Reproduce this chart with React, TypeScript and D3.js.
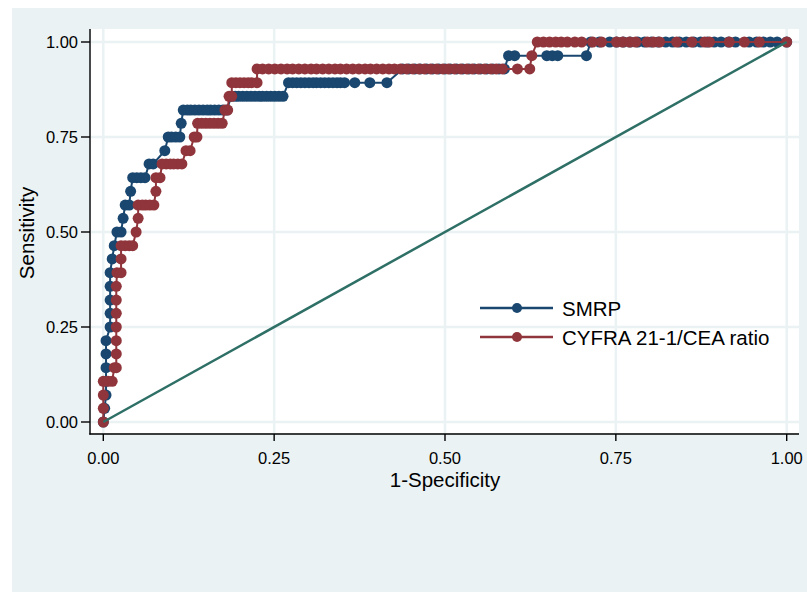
import React from "react";
import * as d3 from "d3";

// 1-Specificity / Sensitivity pairs
const smrpX = [0, 0.002, 0.004, 0.004, 0.004, 0.004, 0.004, 0.01, 0.01, 0.01, 0.01, 0.01, 0.013, 0.016, 0.02, 0.026, 0.029, 0.032, 0.038, 0.04, 0.043, 0.049, 0.055, 0.061, 0.067, 0.073, 0.09, 0.095, 0.1, 0.106, 0.112, 0.114, 0.117,
  0.123, 0.128, 0.134, 0.14, 0.146, 0.152, 0.157, 0.163, 0.169, 0.175, 0.181,
  0.187, 0.193, 0.198, 0.204, 0.21, 0.216, 0.222, 0.228, 0.233, 0.239, 0.245, 0.251, 0.257, 0.263,
  0.271, 0.277, 0.283, 0.289, 0.295, 0.301, 0.307, 0.312, 0.318, 0.324, 0.33, 0.336, 0.342, 0.347, 0.353, 0.368, 0.39, 0.415,
  0.438, 0.447, 0.456, 0.464, 0.473, 0.482, 0.491, 0.5, 0.508, 0.517, 0.526, 0.535, 0.543, 0.552, 0.561, 0.57, 0.579, 0.587,
  0.593, 0.602, 0.649, 0.657, 0.665, 0.707,
  0.713, 0.726, 0.741, 0.751, 0.761, 0.771, 0.782, 0.792, 0.802, 0.812, 0.823, 0.833, 0.843, 0.853, 0.864, 0.874, 0.884, 0.894, 0.904, 0.915, 0.925, 0.945, 0.956, 0.966, 0.976, 0.986, 1];
const smrpY = [0, 0.036, 0.071, 0.107, 0.143, 0.179, 0.214, 0.25, 0.286, 0.321, 0.357, 0.393, 0.429, 0.464, 0.5, 0.5, 0.536, 0.571, 0.571, 0.607, 0.643, 0.643, 0.643, 0.643, 0.679, 0.679, 0.714, 0.75, 0.75, 0.75, 0.75, 0.786, 0.821,
  0.821, 0.821, 0.821, 0.821, 0.821, 0.821, 0.821, 0.821, 0.821, 0.821, 0.821,
  0.857, 0.857, 0.857, 0.857, 0.857, 0.857, 0.857, 0.857, 0.857, 0.857, 0.857, 0.857, 0.857, 0.857,
  0.893, 0.893, 0.893, 0.893, 0.893, 0.893, 0.893, 0.893, 0.893, 0.893, 0.893, 0.893, 0.893, 0.893, 0.893, 0.893, 0.893, 0.893,
  0.929, 0.929, 0.929, 0.929, 0.929, 0.929, 0.929, 0.929, 0.929, 0.929, 0.929, 0.929, 0.929, 0.929, 0.929, 0.929, 0.929, 0.929,
  0.964, 0.964, 0.964, 0.964, 0.964, 0.964,
  1, 1, 1, 1, 1, 1, 1, 1, 1, 1, 1, 1, 1, 1, 1, 1, 1, 1, 1, 1, 1, 1, 1, 1, 1, 1, 1];

const cyfraX = [0, 0, 0, 0, 0.007, 0.013, 0.016, 0.019, 0.019, 0.019, 0.019, 0.019, 0.019, 0.019, 0.02, 0.026, 0.026, 0.026, 0.032, 0.038, 0.043, 0.048, 0.051, 0.051, 0.057, 0.062, 0.068, 0.074, 0.077, 0.077, 0.083, 0.086, 0.092, 0.098, 0.103, 0.109, 0.115, 0.121, 0.127, 0.133, 0.137, 0.138, 0.144, 0.15, 0.156, 0.162, 0.168, 0.174, 0.178, 0.182, 0.184, 0.188, 0.188, 0.194, 0.2, 0.206, 0.212, 0.217, 0.225,
  0.225, 0.233, 0.242, 0.251, 0.26, 0.269, 0.277, 0.286, 0.295, 0.304, 0.312, 0.321, 0.33, 0.339, 0.347, 0.356, 0.365, 0.374, 0.383, 0.391, 0.4, 0.409, 0.418, 0.426, 0.435, 0.444, 0.453, 0.462, 0.47, 0.479, 0.488, 0.497, 0.505, 0.514, 0.523, 0.532, 0.54, 0.549, 0.558, 0.567, 0.575, 0.584, 0.606, 0.624,
  0.627,
  0.635, 0.644, 0.653, 0.662, 0.67, 0.679, 0.69, 0.7, 0.716, 0.729, 0.751, 0.76, 0.77, 0.779, 0.796, 0.805, 0.814, 0.839, 0.861, 0.88, 0.887, 0.916, 0.938, 0.96, 1];
const cyfraY = [0, 0.036, 0.071, 0.107, 0.107, 0.107, 0.143, 0.143, 0.179, 0.214, 0.25, 0.286, 0.321, 0.357, 0.393, 0.393, 0.429, 0.464, 0.464, 0.464, 0.464, 0.5, 0.536, 0.571, 0.571, 0.571, 0.571, 0.571, 0.607, 0.643, 0.643, 0.679, 0.679, 0.679, 0.679, 0.679, 0.679, 0.714, 0.714, 0.75, 0.75, 0.786, 0.786, 0.786, 0.786, 0.786, 0.786, 0.786, 0.821, 0.821, 0.857, 0.857, 0.893, 0.893, 0.893, 0.893, 0.893, 0.893, 0.893,
  0.929, 0.929, 0.929, 0.929, 0.929, 0.929, 0.929, 0.929, 0.929, 0.929, 0.929, 0.929, 0.929, 0.929, 0.929, 0.929, 0.929, 0.929, 0.929, 0.929, 0.929, 0.929, 0.929, 0.929, 0.929, 0.929, 0.929, 0.929, 0.929, 0.929, 0.929, 0.929, 0.929, 0.929, 0.929, 0.929, 0.929, 0.929, 0.929, 0.929, 0.929, 0.929, 0.929, 0.929,
  0.964,
  1, 1, 1, 1, 1, 1, 1, 1, 1, 1, 1, 1, 1, 1, 1, 1, 1, 1, 1, 1, 1, 1, 1, 1, 1];

const ticks = [0, 0.25, 0.5, 0.75, 1];
const tickLabels = ["0.00", "0.25", "0.50", "0.75", "1.00"];
const seriesNames = ["SMRP", "CYFRA 21-1/CEA ratio"];

const BG = "#EAF2F3";
const BLUE = "#1A476F";
const RED = "#90353B";
const GREEN = "#2E6F66";
const FONT = "'Liberation Sans', Arial, Helvetica, sans-serif";

export default function App() {
  const x = d3.scaleLinear().domain([0, 1]).range([103.3, 786.7]);
  const y = d3.scaleLinear().domain([0, 1]).range([422, 42]);
  const line = d3.line<number>().x((d: any) => x(d[0])).y((d: any) => y(d[1]));

  const series = [
    { name: seriesNames[0], color: BLUE, pts: smrpX.map((v, i) => [v, smrpY[i]]) },
    { name: seriesNames[1], color: RED, pts: cyfraX.map((v, i) => [v, cyfraY[i]]) },
  ];

  const r = 5.5;
  const legY = [308, 337];

  return (
    <svg width={807} height={592} style={{ position: "absolute", left: 0, top: 0 }} fontFamily={FONT}>
      <rect x={12} y={8} width={795} height={584} fill={BG} />
      <rect x={91} y={29} width={708} height={404} fill="#FFFFFF" />
      {ticks.map((t) => (
        <g key={"g" + t}>
          <line x1={x(t)} x2={x(t)} y1={29} y2={433} stroke={BG} strokeWidth={2.5} />
          <line x1={91} x2={799} y1={y(t)} y2={y(t)} stroke={BG} strokeWidth={2.5} />
        </g>
      ))}
      {series.map((s) => (
        <g key={s.name}>
          <path d={line(s.pts as any) || ""} fill="none" stroke={s.color} strokeWidth={2} />
          {s.pts.map((p, i) => (
            <circle key={i} cx={x(p[0])} cy={y(p[1])} r={r} fill={s.color} />
          ))}
        </g>
      ))}
      <line x1={x(0)} y1={y(0)} x2={x(1)} y2={y(1)} stroke={GREEN} strokeWidth={2.5} />
      {/* axes */}
      <line x1={90} x2={90} y1={29} y2={434.5} stroke="#000" strokeWidth={1.4} />
      <line x1={89.3} x2={799} y1={434} y2={434} stroke="#000" strokeWidth={1.4} />
      {ticks.map((t, i) => (
        <g key={"t" + t}>
          <line x1={81} x2={90} y1={y(t)} y2={y(t)} stroke="#000" strokeWidth={1.4} />
          <text x={78} y={y(t) + 6} textAnchor="end" fontSize={16.5} fill="#000">{tickLabels[i]}</text>
          <line x1={x(t)} x2={x(t)} y1={434} y2={441} stroke="#000" strokeWidth={1.4} />
          <text x={x(t)} y={464} textAnchor="middle" fontSize={16.5} fill="#000">{tickLabels[i]}</text>
        </g>
      ))}
      <text x={445} y={487} textAnchor="middle" fontSize={20.5} fill="#000">1-Specificity</text>
      <text transform="translate(34,233) rotate(-90)" textAnchor="middle" fontSize={20.5} fill="#000">Sensitivity</text>
      {series.map((s, i) => (
        <g key={"l" + i}>
          <line x1={480} x2={553} y1={legY[i]} y2={legY[i]} stroke={s.color} strokeWidth={2.5} />
          <circle cx={517} cy={legY[i]} r={5} fill={s.color} />
          <text x={562} y={legY[i] + 7.5} fontSize={20.5} fill="#000">{s.name}</text>
        </g>
      ))}
    </svg>
  );
}
